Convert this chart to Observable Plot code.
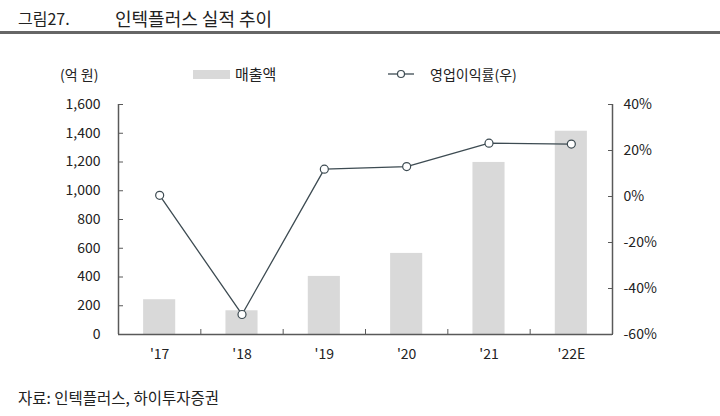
<!DOCTYPE html>
<html>
<head>
<meta charset="utf-8">
<script src="https://cdn.jsdelivr.net/npm/d3@7"></script>
<script src="https://cdn.jsdelivr.net/npm/@observablehq/plot@0.6"></script>
<style>
  html, body { margin: 0; padding: 0; background: #fff; }
  body { font-family: "Noto Sans CJK KR", "Noto Sans", sans-serif; color: #222; }
  #wrap { position: relative; width: 720px; height: 416px; overflow: hidden; }
  .abs { position: absolute; white-space: nowrap; line-height: 1; }
  #titleLine { position: absolute; left: 0; top: 31px; width: 720px; height: 3px; background: #666; }
  .swatch { position: absolute; }
</style>
</head>
<body>
<div id="wrap">
  <div class="abs" style="left:18px; top:10px; font-size:16px;">그림27.</div>
  <div class="abs" style="left:115px; top:9px; font-size:18px;">인텍플러스 실적 추이</div>
  <div id="titleLine"></div>
  <div class="abs" style="left:60px; top:67px; font-size:14px;">(억 원)</div>
  <div class="swatch" style="left:193px; top:70px; width:37px; height:9px; background:#d9d9d9;"></div>
  <div class="abs" style="left:235px; top:66px; font-size:15px;">매출액</div>
  <svg class="swatch" style="left:388px; top:68px;" width="26" height="12">
    <line x1="0" y1="6" x2="26" y2="6" stroke="#3d4b52" stroke-width="1.3"></line>
    <circle cx="13" cy="6" r="3.5" fill="#fff" stroke="#3d4b52" stroke-width="1.2"></circle>
  </svg>
  <div class="abs" style="left:430px; top:67px; font-size:14px;">영업이익률(우)</div>
  <div id="chart" style="position:absolute; left:0; top:0;"></div>
  <div class="abs" style="left:18px; top:390px; font-size:15.5px;">자료: 인텍플러스, 하이투자증권</div>
</div>
<script>
const categories = ["'17", "'18", "'19", "'20", "'21", "'22E"];
const sales = [242, 165, 404, 564, 1197, 1414];          // 매출액 (억 원)
const opMargin = [0.5, -51.3, 11.9, 13.0, 23.2, 22.8];   // 영업이익률 (%)
const leftTicks = [0, 200, 400, 600, 800, 1000, 1200, 1400, 1600];
const rightTicks = [-60, -40, -20, 0, 20, 40];

// right axis (%) mapped onto left scale: -60%..40% -> 0..1600
const toLeft = p => (p + 60) * 16;
const fromLeft = v => Math.round(v / 16 - 60);

const data = categories.map((c, i) => ({i, c, sales: sales[i], margin: opMargin[i]}));
const halfBar = 0.195;
const axisColor = "#595959";
const lineColor = "#3d4b52";

const chart = Plot.plot({
  width: 720,
  height: 416,
  marginLeft: 118,
  marginRight: 108,
  marginTop: 104,
  marginBottom: 82,
  style: {fontFamily: '"Noto Sans CJK KR", sans-serif', fontSize: "14px", color: "#222", background: "transparent"},
  x: {domain: [-0.5, categories.length - 0.5], axis: null},
  y: {domain: [0, 1600], axis: null},
  marks: [
    Plot.rectY(data, {x1: d => d.i - halfBar, x2: d => d.i + halfBar, y1: 0, y2: "sales", fill: "#d9d9d9"}),
    // axis lines
    Plot.ruleX([-0.5, categories.length - 0.5], {stroke: axisColor, strokeWidth: 1.5}),
    Plot.ruleY([0], {stroke: axisColor, strokeWidth: 1.5}),
    // left axis: labels and inward ticks
    Plot.axisY(leftTicks, {anchor: "left", label: null, tickSize: 0, tickPadding: 18, tickFormat: d3.format(","), fill: "#222"}),
    Plot.axisY(leftTicks, {anchor: "left", label: null, tickSize: -5, tickFormat: () => "", stroke: axisColor}),
    // right axis
    Plot.axisY(rightTicks.map(toLeft), {anchor: "right", label: null, tickSize: 0, tickPadding: 11, tickFormat: v => fromLeft(v) + "%", fill: "#222"}),
    Plot.axisY(rightTicks.map(toLeft), {anchor: "right", label: null, tickSize: -5, tickFormat: () => "", stroke: axisColor}),
    // x axis labels at centers, ticks at boundaries
    Plot.axisX(data.map(d => d.i), {anchor: "bottom", label: null, tickSize: 0, tickPadding: 15, tickFormat: i => categories[i], fill: "#222"}),
    Plot.axisX(data.slice(1).map(d => d.i - 0.5), {anchor: "bottom", label: null, tickSize: -5, tickFormat: () => "", stroke: axisColor}),
    // operating margin line
    Plot.line(data, {x: "i", y: d => toLeft(d.margin), stroke: lineColor, strokeWidth: 1.3}),
    Plot.dot(data, {x: "i", y: d => toLeft(d.margin), r: 4, fill: "#fff", stroke: lineColor, strokeWidth: 1.2})
  ]
});
document.getElementById("chart").appendChild(chart);
</script>
</body>
</html>
